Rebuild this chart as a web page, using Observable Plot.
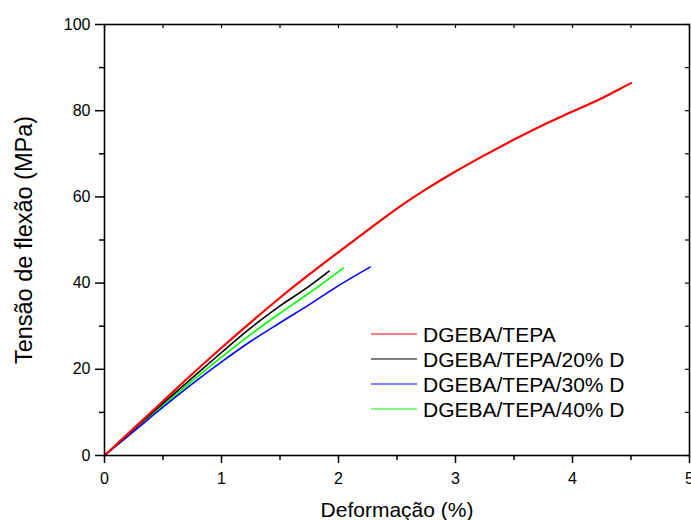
<!DOCTYPE html>
<html><head><meta charset="utf-8">
<script src="https://cdn.jsdelivr.net/npm/d3@7"></script>
<script src="https://cdn.jsdelivr.net/npm/@observablehq/plot@0.6"></script>
<style>
body{margin:0;background:#fff;font-family:"Liberation Sans",Arial,sans-serif;}
#wrap{position:relative;width:691px;height:520px;}
#legend{position:absolute;left:371px;top:321.5px;font-size:21px;color:#000;line-height:25px;}
.row{display:flex;align-items:center;height:25px;white-space:nowrap;}
.row svg{margin-right:6px;display:block}
</style></head><body><div id="wrap"><div id="legend"></div></div>
<script>
const seriesNames = ["DGEBA/TEPA", "DGEBA/TEPA/20% D", "DGEBA/TEPA/30% D", "DGEBA/TEPA/40% D"];
const seriesColors = ["#ff0000", "#000000", "#0000ff", "#00ff00"];

const redX = [0, 0.25, 0.5, 0.75, 1.0, 1.25, 1.5, 1.75, 2.0, 2.25, 2.5, 2.75, 3.0, 3.25, 3.5, 3.75, 4.0, 4.25, 4.4, 4.5];
const redY = [0, 6.3, 12.6, 18.9, 25.0, 30.9, 36.6, 42.0, 47.2, 52.3, 57.3, 61.8, 65.9, 69.7, 73.3, 76.7, 79.8, 82.9, 85.0, 86.4];
const blackX = [0, 0.25, 0.5, 0.75, 1.0, 1.25, 1.5, 1.75, 1.92];
const blackY = [0, 6.1, 12.1, 18.0, 23.9, 29.6, 34.7, 39.3, 42.8];
const blueX = [0, 0.25, 0.5, 0.75, 1.0, 1.25, 1.5, 1.75, 2.0, 2.27];
const blueY = [0, 5.6, 11.2, 16.6, 21.7, 26.5, 30.8, 35.0, 39.4, 43.7];
const greenX = [0, 0.25, 0.5, 0.75, 1.0, 1.25, 1.5, 1.75, 2.04];
const greenY = [0, 5.8, 11.6, 17.3, 22.8, 28.1, 33.0, 37.7, 43.5];

const xMajorTicks = [0, 1, 2, 3, 4, 5];
const xMinorTicks = [0.5, 1.5, 2.5, 3.5, 4.5];
const yMajorTicks = [0, 20, 40, 60, 80, 100];
const yMinorTicks = [10, 30, 50, 70, 90];
const xLabel = "Deformação (%)";
const yLabel = "Tensão de flexão (MPa)";

const seriesX = [redX, blackX, blueX, greenX];
const seriesY = [redY, blackY, blueY, greenY];
const rows = [];
seriesNames.forEach((name, i) => {
  seriesX[i].forEach((x, j) => rows.push({series: name, x, y: seriesY[i][j]}));
});

const W = 691, H = 520, mL = 104, mR = 2, mT = 24, mB = 65;
const plotW = W - mL - mR, plotH = H - mT - mB;

const lineMarks = seriesNames.map((name, i) =>
  Plot.line(rows.filter(r => r.series === name), {
    x: "x", y: "y", stroke: seriesColors[i],
    strokeWidth: i === 0 ? 2.2 : 1.6, curve: "monotone-x"
  })
).reverse();

const chart = Plot.plot({
  width: W, height: H,
  marginLeft: mL, marginRight: mR, marginTop: mT, marginBottom: mB,
  style: {fontFamily: "'Liberation Sans', Arial, sans-serif", fontSize: "16px", color: "#000", background: "#fff"},
  x: {domain: [0, 5]},
  y: {domain: [0, 100]},
  marks: [
    ...lineMarks,
    Plot.frame({stroke: "#000", strokeWidth: 1.6}),
    Plot.axisX(xMajorTicks, {anchor: "bottom", tickSize: 8, tickPadding: 9, fontSize: 16, label: null, strokeWidth: 1.5, tickFormat: d => String(d)}),
    Plot.axisX(xMinorTicks, {anchor: "bottom", tickSize: 5, text: null, label: null, strokeWidth: 1.5}),
    Plot.axisY(yMajorTicks, {anchor: "left", tickSize: 9, tickPadding: 5, fontSize: 16, label: null, strokeWidth: 1.5, tickFormat: d => String(d)}),
    Plot.axisY(yMinorTicks, {anchor: "left", tickSize: 5, text: null, label: null, strokeWidth: 1.5}),
    Plot.tickX([...xMajorTicks, ...xMinorTicks], {x: d => d, insetBottom: plotH - 4, strokeWidth: 1.2}),
    Plot.tickY([...yMajorTicks, ...yMinorTicks], {y: d => d, insetLeft: plotW - 4, strokeWidth: 1.2}),
    Plot.text([xLabel], {text: d => d, frameAnchor: "bottom", lineAnchor: "middle", textAnchor: "middle", dy: 55, fontSize: 21}),
    Plot.text([yLabel], {text: d => d, frameAnchor: "left", textAnchor: "middle", lineAnchor: "middle", dx: -80, rotate: -90, fontSize: 23.5})
  ]
});

const wrap = document.getElementById("wrap");
wrap.prepend(chart);

const legend = d3.select("#legend");
seriesNames.forEach((name, i) => {
  const row = legend.append("div").attr("class", "row");
  const s = row.append("svg").attr("width", 46).attr("height", 4);
  s.append("line").attr("x1", 0).attr("x2", 46).attr("y1", 2).attr("y2", 2)
    .attr("stroke", seriesColors[i]).attr("stroke-width", 1.2);
  row.append("span").text(name);
});
</script></body></html>
